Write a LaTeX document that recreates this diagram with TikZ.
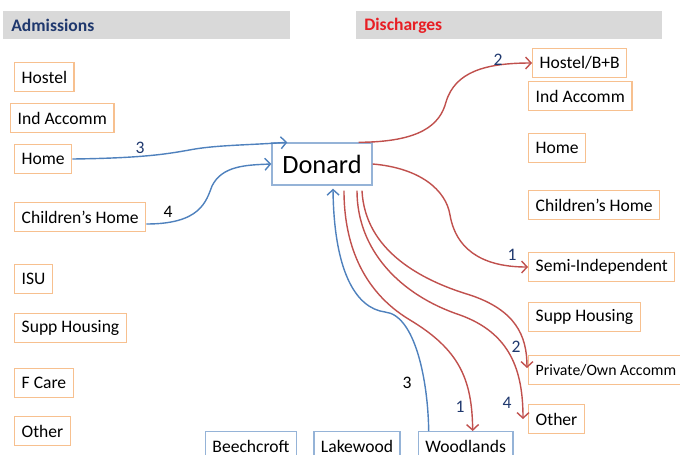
\documentclass[tikz,border=0pt]{standalone}
\usepackage{fontspec}
\setmainfont{Carlito}
\usetikzlibrary{arrows.meta,positioning}

\definecolor{bargray}{RGB}{217,217,217}
\definecolor{navytext}{RGB}{31,56,110}
\definecolor{redtext}{RGB}{232,30,36}
\definecolor{boxorange}{RGB}{247,192,143}
\definecolor{boxblue}{RGB}{149,179,215}
\definecolor{arrowblue}{RGB}{79,129,189}
\definecolor{arrowred}{RGB}{192,80,77}

\tikzset{
  header/.style={fill=bargray, anchor=north west, minimum height=0.56cm, inner xsep=0.16cm, align=left, font=\fontsize{10}{12}\selectfont\bfseries},
  place/.style={draw=boxorange, line width=0.8pt, rectangle, inner xsep=4pt, minimum height=0.58cm, font=\fontsize{10}{12}\selectfont},
  unit/.style={draw=boxblue, line width=0.8pt, rectangle, inner xsep=4pt, minimum height=0.58cm, font=\fontsize{10}{12}\selectfont},
  admit/.style={-{Straight Barb[length=1.1mm, width=2.4mm]}, draw=arrowblue, line width=0.8pt},
  discharge/.style={-{Straight Barb[length=1.1mm, width=2.4mm]}, draw=arrowred, line width=0.8pt},
  count/.style={font=\fontsize{10}{12}\selectfont, text=navytext}
}

\begin{document}
\begin{tikzpicture}[x=0.02cm, y=-0.02cm]
        \useasboundingbox (0,0) rectangle (680,454);
        \clip (0,0) rectangle (680,454);

        % Headings
        \node[header, text width=5.42cm, text=navytext] (admissions) at (3,11) {Admissions};
        \node[header, text width=5.8cm, text=redtext] (discharges) at (356,11) {Discharges};

        % Admissions (from)
        \node[place, anchor=west] (hostelL) at (14,77) {Hostel};
        \node[place, anchor=west] (indL) at (10,118) {Ind Accomm};
        \node[place, anchor=west] (homeL) at (14,159) {Home};
        \node[place, anchor=west] (childL) at (14,217) {Children’s Home};
        \node[place, anchor=west] (isuL) at (14,279) {ISU};
        \node[place, anchor=west] (suppL) at (14,328) {Supp Housing};
        \node[place, anchor=west] (fcareL) at (14,383) {F Care};
        \node[place, anchor=west] (otherL) at (14,431) {Other};

        % Units
        \node[unit, minimum width=2cm, minimum height=0.84cm, font=\fontsize{15}{18}\selectfont] (donard) at (322,164) {Donard};
        \node[unit, anchor=north] (beechcroft) at (251,431) {Beechcroft};
        \node[unit, right=0.32cm of beechcroft] (lakewood) {Lakewood};
        \node[unit, right=0.34cm of lakewood] (woodlands) {Woodlands};

        % Discharges (to)
        \node[place, anchor=west] (hostelR) at (532,63) {Hostel/B+B};
        \node[place, anchor=west] (indR) at (528,96) {Ind Accomm};
        \node[place, anchor=west] (homeR) at (528,148) {Home};
        \node[place, anchor=west] (childR) at (528,205) {Children’s Home};
        \node[place, anchor=west] (semiR) at (528,267) {Semi-Independent};
        \node[place, anchor=west] (suppR) at (528,317) {Supp Housing};
        \node[place, anchor=west, font=\fontsize{9}{11}\selectfont] (privateR) at (528,370) {Private/Own Accomm};
        \node[place, anchor=west] (otherR) at (528,419) {Other};

        % Arrows for admissions
        \draw[admit] (homeL.east) .. controls (150,158) and (172,153) .. (195,149) .. controls (220,145) and (250,145) .. ([xshift=0.32cm]donard.north west);
        \draw[admit] ([yshift=-0.14cm]childL.east) .. controls (200,224) and (206,202) .. (212,186) .. controls (222,166) and (245,165) .. (donard.west);
        \draw[admit] ([xshift=-0.74cm]woodlands.north) .. controls (428,380) and (415,315) .. (385,312) .. controls (355,308) and (334,270) .. ([xshift=0.22cm,yshift=-0.06cm]donard.south);

        % Arrows for discharges
        \draw[discharge] ([xshift=-0.28cm]donard.north east) .. controls (420,142) and (440,125) .. (446,102) .. controls (455,72) and (485,63) .. (hostelR.west);
        \draw[discharge] (donard.east) .. controls (420,168) and (446,190) .. (450,215) .. controls (457,255) and (490,267) .. (semiR.west);
        \draw[discharge] ([xshift=0.44cm,yshift=-0.1cm]donard.south) .. controls (344,240) and (360,290) .. (410,320) .. controls (460,350) and (472,380) .. ([xshift=0.14cm]woodlands.north);
        \draw[discharge] ([xshift=0.7cm,yshift=-0.1cm]donard.south) .. controls (357,250) and (400,295) .. (460,315) .. controls (510,333) and (523,370) .. ([xshift=-0.1cm]otherR.west);
        \draw[discharge] ([xshift=0.8cm,yshift=-0.1cm]donard.south) .. controls (365,250) and (420,280) .. (470,295) .. controls (515,310) and (527,335) .. ([xshift=-0.02cm,yshift=0.04cm]privateR.west);

        % Counts
        \node[count] (n1) at (140,148) {3};
        \node[count, text=black] (n2) at (168,212) {4};
        \node[count, text=black] (n3) at (407,383) {3};
        \node[count] (n4) at (498,60) {2};
        \node[count] (n5) at (512,255) {1};
        \node[count] (n6) at (516,347) {2};
        \node[count] (n7) at (507,403) {4};
        \node[count] (n8) at (460,407) {1};
    \end{tikzpicture}
\end{document}
